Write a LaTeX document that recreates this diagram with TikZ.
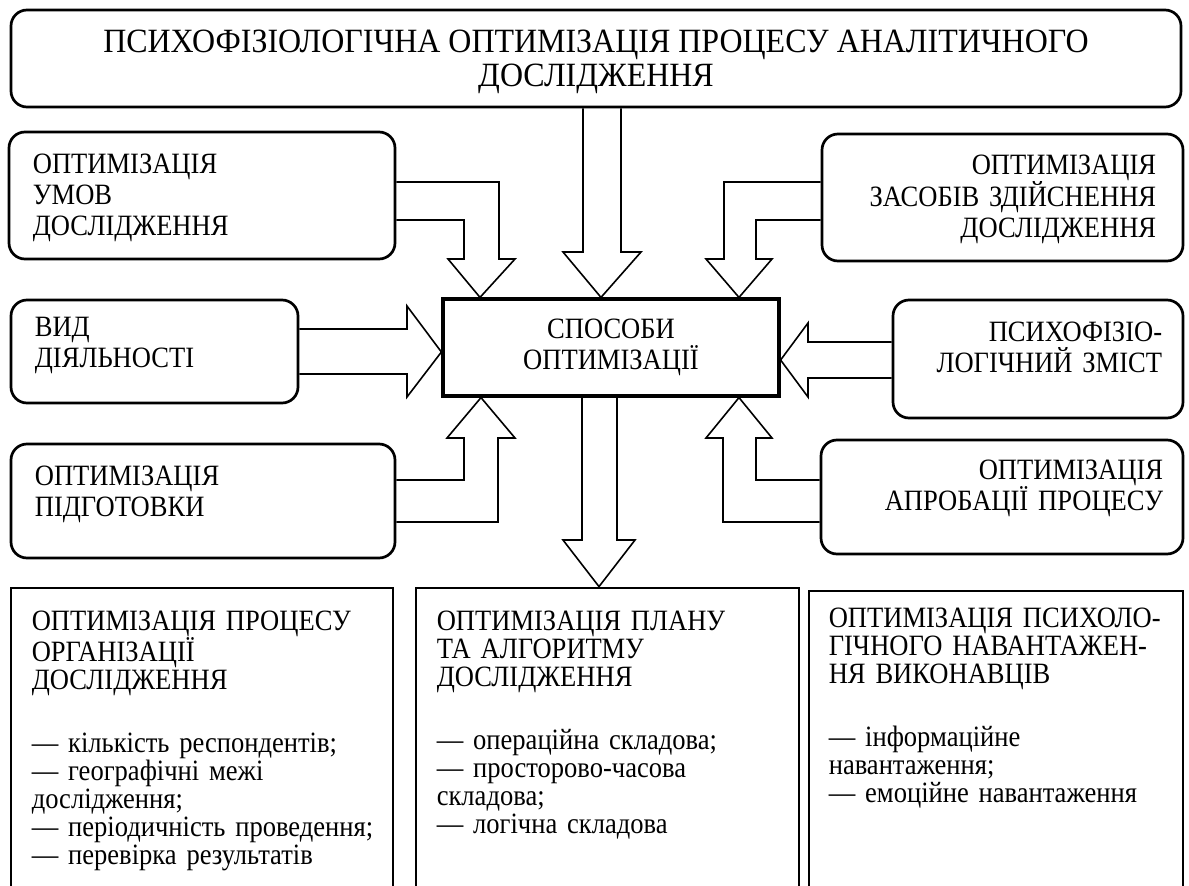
\documentclass[tikz,border=0pt]{standalone}
\usepackage{fontspec}
\setmainfont{Liberation Serif}
\newfontfamily\boxfam[FakeStretch=0.9]{Liberation Serif}
\newfontfamily\titlefam[FakeStretch=0.94]{Liberation Serif}
\usetikzlibrary{calc}
\tikzset{
  roundbox/.style={draw,line width=2.7pt,rounded corners=16pt,inner sep=0pt},
  plainbox/.style={draw,line width=2.8pt,inner sep=0pt},
  blockarrow/.style={draw,line width=1.6pt,line join=miter},
  boxfont/.style={font=\boxfam\fontsize{29.5}{31}\selectfont},
  listfont/.style={font=\boxfam\fontsize{29.5}{28}\selectfont},
  lefttext/.style={boxfont,inner sep=0pt,text width=#1,align=left,anchor=base west},
  righttext/.style={boxfont,inner sep=0pt,text width=#1,align=right,anchor=base east},
}

\begin{document}
\begin{tikzpicture}[x=1pt,y=-1pt]
  \clip (0,0) rectangle (1189,886);
  % top and centre
  \node[roundbox,minimum width=1170pt,minimum height=97pt] (title) at (596,58.5) {};
  \node[align=center,inner sep=0pt,font=\titlefam\fontsize{34}{34}\selectfont] (titletext)
    at ($(title.center)+(0,3)$) {ПСИХОФІЗІОЛОГІЧНА ОПТИМІЗАЦІЯ ПРОЦЕСУ АНАЛІТИЧНОГО\\ДОСЛІДЖЕННЯ};
  \node[plainbox,line width=3.2pt,minimum width=336pt,minimum height=97pt,
        align=center,boxfont] (sposoby) at (611,347.5) {СПОСОБИ\\ОПТИМІЗАЦІЇ};
  % left boxes
  \node[roundbox,minimum width=386pt,minimum height=127pt] (umov) at (202,195.5) {};
  \node[lefttext=340pt] (umovtext) at ($(umov.north west)+(25,43)$) {ОПТИМІЗАЦІЯ\\УМОВ\\ДОСЛІДЖЕННЯ};
  \node[roundbox,minimum width=287pt,minimum height=103pt] (vyd) at (154.5,351.5) {};
  \node[lefttext=250pt] (vydtext) at ($(vyd.north west)+(25,38)$) {ВИД\\ДІЯЛЬНОСТІ};
  \node[roundbox,minimum width=384pt,minimum height=114pt] (pidg) at (203,501) {};
  \node[lefttext=340pt] (pidgtext) at ($(pidg.north west)+(25,43)$) {ОПТИМІЗАЦІЯ\\ПІДГОТОВКИ};
  % right boxes
  \node[roundbox,minimum width=361pt,minimum height=127pt] (zasobiv) at (1002.5,197.5) {};
  \node[righttext=320pt] (zasobivtext) at ($(zasobiv.north east)+(-28,42)$) {ОПТИМІЗАЦІЯ\\ЗАСОБІВ ЗДІЙСНЕННЯ\\ДОСЛІДЖЕННЯ};
  \node[roundbox,minimum width=290pt,minimum height=118pt] (psykho) at (1038,359) {};
  \node[righttext=260pt] (psykhotext) at ($(psykho.north east)+(-22,43)$) {ПСИХОФІЗІО-\\ЛОГІЧНИЙ ЗМІСТ};
  \node[roundbox,minimum width=362pt,minimum height=114pt] (aprob) at (1002,497) {};
  \node[righttext=330pt] (aprobtext) at ($(aprob.north east)+(-21,41)$) {ОПТИМІЗАЦІЯ\\АПРОБАЦІЇ ПРОЦЕСУ};
  % bottom boxes
  \node[plainbox,minimum width=382pt,minimum height=342pt] (orgbox) at (202,759) {};
  \node[lefttext=360pt,listfont] (orgtext) at ($(orgbox.north west)+(22,44)$)
    {ОПТИМІЗАЦІЯ ПРОЦЕСУ\\ОРГАНІЗАЦІЇ\\ДОСЛІДЖЕННЯ\\[35pt]
     — кількість респондентів;\\— географічні межі\\дослідження;\\
     — періодичність проведення;\\— перевірка результатів};
  \node[plainbox,minimum width=383pt,minimum height=342pt] (planbox) at (607.5,759) {};
  \node[lefttext=360pt,listfont] (plantext) at ($(planbox.north west)+(22,44)$)
    {ОПТИМІЗАЦІЯ ПЛАНУ\\ТА АЛГОРИТМУ\\ДОСЛІДЖЕННЯ\\[35pt]
     — операційна складова;\\— просторово-часова\\складова;\\— логічна складова};
  \node[plainbox,minimum width=374pt,minimum height=339pt] (loadbox) at (996,760.5) {};
  \node[lefttext=350pt,listfont] (loadtext) at ($(loadbox.north west)+(21,38)$)
    {ОПТИМІЗАЦІЯ ПСИХОЛО-\\ГІЧНОГО НАВАНТАЖЕН-\\НЯ ВИКОНАВЦІВ\\[35pt]
     — інформаційне\\навантаження;\\— емоційне навантаження};
  % block arrows
  \draw[blockarrow] (title.south -| 583,0) -- (583,252) -- (563,252) -- (601,0 |- sposoby.north)
    -- (641,252) -- (621,252) -- (title.south -| 621,0);
  \draw[blockarrow] (umov.east |- 0,182) -- (499,182) -- (499,259) -- (515,259) -- (480,0 |- sposoby.north)
    -- (448,259) -- (464,259) -- (464,220) -- (umov.east |- 0,220);
  \draw[blockarrow] (zasobiv.west |- 0,182) -- (724,182) -- (724,259) -- (706,259) -- (739,0 |- sposoby.north)
    -- (772,259) -- (756,259) -- (756,220) -- (zasobiv.west |- 0,220);
  \draw[blockarrow] (vyd.east |- 0,329) -- (407,329) -- (407,306) -- (sposoby.west |- 0,352)
    -- (407,397) -- (407,374) -- (vyd.east |- 0,374);
  \draw[blockarrow] (pidg.east |- 0,480) -- (464,480) -- (464,438) -- (447,438) -- (481,0 |- sposoby.south)
    -- (515,438) -- (498,438) -- (498,522) -- (pidg.east |- 0,522);
  \draw[blockarrow] (psykho.west |- 0,342) -- (808,342) -- (808,323) -- (sposoby.east |- 0,360)
    -- (808,397) -- (808,378) -- (psykho.west |- 0,378);
  \draw[blockarrow] (aprob.west |- 0,480) -- (756,480) -- (756,438) -- (772,438) -- (739,0 |- sposoby.south)
    -- (706,438) -- (723,438) -- (723,522) -- (aprob.west |- 0,522);
  \draw[blockarrow] (sposoby.south -| 582,0) -- (582,540) -- (563,540) -- (599,0 |- planbox.north)
    -- (635,540) -- (617,540) -- (sposoby.south -| 617,0);
\end{tikzpicture}
\end{document}
